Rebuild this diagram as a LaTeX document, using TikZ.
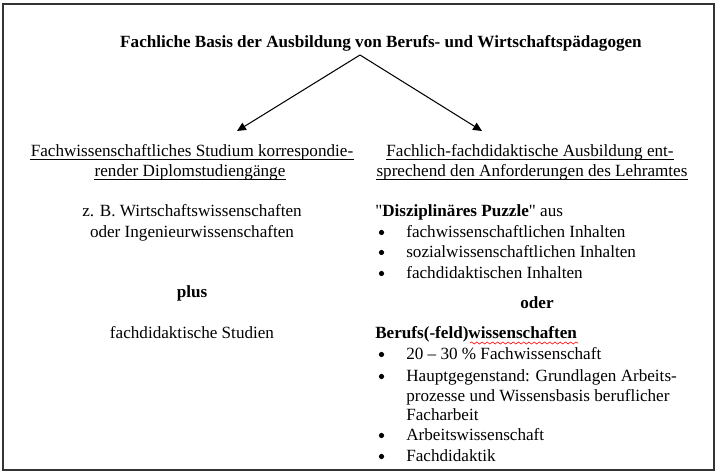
\documentclass[tikz,border=0pt]{standalone}
\usepackage{fontspec}
\setmainfont{Liberation Serif}[Ligatures=TeXOff]
\usetikzlibrary{arrows.meta,decorations.pathmorphing}

\begin{document}
\begin{tikzpicture}[x=0.02361cm,y=-0.02361cm,
  every node/.style={inner sep=0pt,font=\fontsize{11.5pt}{13.5pt}\selectfont},
  arr/.style={line width=0.7pt,-{Triangle[length=6pt,width=5.5pt]}},
  txt/.style={anchor=base west},
  mid/.style={anchor=base},
  head/.style={anchor=base,font=\fontsize{11.5pt}{13.5pt}\selectfont\bfseries},
  bul/.style={circle,fill,minimum size=3.5pt},
  uline/.style={line width=0.5pt}]
\useasboundingbox (0,0) rectangle (720,474);
\draw[line width=1.2pt,color=black!80] (3,4) rectangle (714,470);

\node[head] (title) at (381,48) {Fachliche Basis der Ausbildung von Berufs- und Wirtschaftspädagogen};

\coordinate (apex) at (360,55);
\coordinate (tipL) at (237,131);
\coordinate (tipR) at (482,131);
\draw[arr] (apex) -- (tipL);
\draw[arr] (apex) -- (tipR);

% linke Seite
\node[mid] (lhead1) at (192,157) {Fachwissenschaftliches Studium korrespondie-};
\node[mid] (lhead2) at (190,177) {render Diplomstudiengänge};
\node[mid] (bsp1) at (192,217) {z. B. Wirtschaftswissenschaften};
\node[mid] (bsp2) at (192,238) {oder Ingenieurwissenschaften};
\node[head] (plus) at (192,298) {plus};
\node[mid] (fdst) at (192,339) {fachdidaktische Studien};

% rechte Seite
\node[mid] (rhead1) at (530,157) {Fachlich-fachdidaktische Ausbildung ent-};
\node[mid] (rhead2) at (532,177) {sprechend den Anforderungen des Lehramtes};
\node[txt] (puzzle) at (375,217) {"\textbf{Disziplinäres Puzzle}" aus};
\node[txt] (p1) at (406,238) {fachwissenschaftlichen Inhalten};
\node[txt] (p2) at (406,258) {sozialwissenschaftlichen Inhalten};
\node[txt] (p3) at (406,279) {fachdidaktischen Inhalten};
\node[head] (oder) at (537,309) {oder};
\node[txt,font=\fontsize{11.5pt}{13.5pt}\selectfont\bfseries] (bwiss) at (375,339) {Berufs(-feld)wissenschaften};
\draw[red,line width=0.4pt,decorate,decoration={snake,amplitude=0.7,segment length=3.5}] (470,343) -- (578,343);
\node[txt] (b1) at (406,360) {20 – 30 \% Fachwissenschaft};
\node[txt] (b2) at (406,382) {Hauptgegenstand: Grundlagen Arbeits-};
\node[txt] (b2a) at (406,402) {prozesse und Wissensbasis beruflicher};
\node[txt] (b2b) at (406,421) {Facharbeit};
\node[txt] (b3) at (406,441) {Arbeitswissenschaft};
\node[txt] (b4) at (406,462) {Fachdidaktik};

% Unterstreichungen
\foreach \n in {lhead1,lhead2,rhead1,rhead2}
  \draw[uline] ([yshift=-1.8pt]\n.base west) -- ([yshift=-1.8pt]\n.base east);

\foreach \y in {238,258,279,360,382,441,462}
  \node[bul] at (381.5,\y-5.5) {};
\end{tikzpicture}
\end{document}
